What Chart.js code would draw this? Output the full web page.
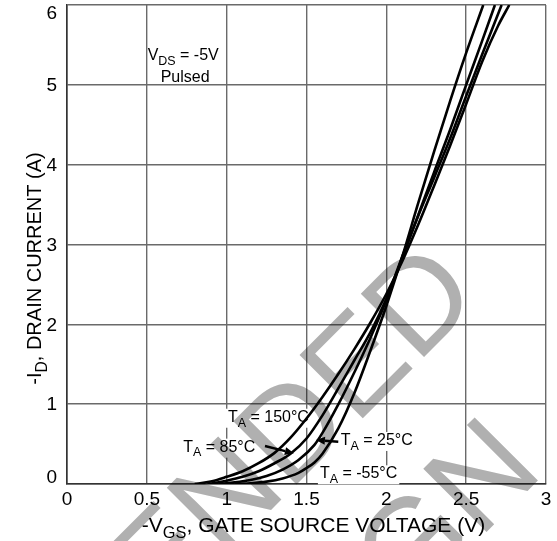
<!DOCTYPE html>
<html><head><meta charset="utf-8">
<script src="https://cdn.jsdelivr.net/npm/chart.js@4.4.1/dist/chart.umd.min.js"></script>
<style>html,body{margin:0;padding:0;background:#fff;}#wrap{width:557px;height:541px;}</style>
</head><body><div id="wrap"><canvas id="c" width="557" height="541"></canvas></div>
<script>
// ---- data ----
const xTickValues = [0, 0.5, 1, 1.5, 2, 2.5, 3];
const xTickLabels = ['0', '0.5', '1', '1.5', '2', '2.5', '3'];
const yTickValues = [0, 1, 2, 3, 4, 5, 6];
const yTickLabels = ['0', '1', '2', '3', '4', '5', '6'];

const vgs150 = [0.80,0.90,1.00,1.10,1.20,1.30,1.40,1.50,1.60,1.70,1.80,1.90,2.00,2.10,2.20,2.30,2.40,2.50,2.60,2.70,2.77];
const id150  = [0,0.03,0.09,0.16,0.26,0.39,0.58,0.82,1.09,1.38,1.69,2.02,2.38,2.79,3.25,3.74,4.24,4.76,5.29,5.74,6.0];
const vgs85  = [0.88,0.95,1.00,1.10,1.20,1.30,1.40,1.50,1.60,1.70,1.80,1.90,2.00,2.10,2.20,2.30,2.40,2.50,2.60,2.722];
const id85   = [0,0.02,0.04,0.09,0.16,0.26,0.38,0.57,0.86,1.20,1.55,1.90,2.32,2.85,3.36,3.84,4.33,4.86,5.38,6.0];
const vgs25  = [0.95,1.05,1.15,1.25,1.35,1.45,1.55,1.60,1.70,1.80,1.90,2.00,2.10,2.20,2.30,2.40,2.50,2.60,2.68];
const id25   = [0,0.02,0.05,0.10,0.18,0.30,0.49,0.64,1.00,1.40,1.83,2.30,2.83,3.37,3.91,4.44,5.0,5.55,6.0];
const vgsM55 = [1.05,1.15,1.25,1.35,1.45,1.50,1.55,1.60,1.70,1.80,1.90,2.00,2.10,2.20,2.30,2.40,2.50,2.607];
const idM55  = [0,0.01,0.03,0.07,0.14,0.20,0.27,0.38,0.70,1.14,1.67,2.23,2.85,3.52,4.17,4.80,5.40,6.0];

const xTitleParts = [['-V',0],['GS',1],[', GATE SOURCE VOLTAGE (V)',0]];
const yTitleParts = [['-I',0],['D',1],[', DRAIN CURRENT (A)',0]];
const watermarkLines = ['NOT RECOMMENDED', 'FOR NEW DESIGN'];

// label texts and their anchor (in data units)
const labels = [
  {parts:[['V',0],['DS',1],[' = -5V',0]], v:0.505, i:5.31, align:'left', bg:false},
  {parts:[['Pulsed',0]], v:0.74, i:5.04, align:'center', bg:false},
  {parts:[['T',0],['A',1],[' = 150°C',0]], v:1.008, i:0.78, align:'left', bg:true},
  {parts:[['T',0],['A',1],[' = 85°C',0]], v:0.728, i:0.405, align:'left', bg:true},
  {parts:[['T',0],['A',1],[' = 25°C',0]], v:1.714, i:0.489, align:'left', bg:true},
  {parts:[['T',0],['A',1],[' = -55°C',0]], v:1.584, i:0.071, align:'left', bg:true}
];
const arrows = [
  {from:[1.24,0.476], to:[1.421,0.385]},
  {from:[1.699,0.530], to:[1.559,0.551]}
];

const FONT = '"Liberation Sans", Arial, Helvetica, sans-serif';
const toPts = (xs, ys) => xs.map((x, k) => ({x: x, y: ys[k]}));

function measureParts(ctx, parts, size) {
  let w = 0;
  parts.forEach(p => { ctx.font = (p[1] ? size * 0.78 : size) + 'px ' + FONT; w += ctx.measureText(p[0]).width; });
  return w;
}
function drawParts(ctx, parts, x, y, size, align) {
  const w = measureParts(ctx, parts, size);
  let cx = align === 'center' ? x - w / 2 : (align === 'right' ? x - w : x);
  ctx.textAlign = 'left'; ctx.textBaseline = 'alphabetic'; ctx.fillStyle = '#000';
  parts.forEach(p => {
    ctx.font = (p[1] ? size * 0.78 : size) + 'px ' + FONT;
    ctx.fillText(p[0], cx, y + (p[1] ? size * 0.3 : 0));
    cx += ctx.measureText(p[0]).width;
  });
  return w;
}

const decor = {
  id: 'decor',
  beforeDatasetsDraw(chart) {
    const ctx = chart.ctx, xs = chart.scales.x, ys = chart.scales.y;
    ctx.save();
    // y tick labels
    ctx.font = '19px ' + FONT; ctx.fillStyle = '#000'; ctx.textAlign = 'right'; ctx.textBaseline = 'middle';
    yTickValues.forEach((v, k) => {
      let py = ys.getPixelForValue(v) + 1;
      py = Math.min(Math.max(py, 14), 478);
      ctx.fillText(yTickLabels[k], xs.left - 10, py);
    });
    // axis titles
    drawParts(ctx, xTitleParts, (xs.left + xs.right) / 2 + 7, 532, 21, 'center');
    ctx.save();
    ctx.translate(41, (ys.top + ys.bottom) / 2 + 24);
    ctx.rotate(-Math.PI / 2);
    drawParts(ctx, yTitleParts, 0, 0, 20, 'center');
    ctx.restore();
    // labels
    labels.forEach(l => {
      const px = xs.getPixelForValue(l.v), py = ys.getPixelForValue(l.i);
      const size = 16;
      const w = measureParts(ctx, l.parts, size);
      const x0 = l.align === 'center' ? px - w / 2 : px;
      if (l.bg) { ctx.fillStyle = '#fff'; ctx.fillRect(x0 - 2, py - 13, w + 4, 19); }
      drawParts(ctx, l.parts, px, py, size, l.align);
    });
    ctx.restore();
  },
  afterDatasetsDraw(chart) {
    const ctx = chart.ctx, xs = chart.scales.x, ys = chart.scales.y;
    ctx.save();
    ctx.strokeStyle = '#000'; ctx.fillStyle = '#000'; ctx.lineWidth = 2.4;
    arrows.forEach(a => {
      const x1 = xs.getPixelForValue(a.from[0]), y1 = ys.getPixelForValue(a.from[1]);
      const x2 = xs.getPixelForValue(a.to[0]), y2 = ys.getPixelForValue(a.to[1]);
      const ang = Math.atan2(y2 - y1, x2 - x1), L = 9, W = 4;
      ctx.beginPath(); ctx.moveTo(x1, y1); ctx.lineTo(x2 - L * Math.cos(ang), y2 - L * Math.sin(ang)); ctx.stroke();
      ctx.beginPath();
      ctx.moveTo(x2, y2);
      ctx.lineTo(x2 - L * Math.cos(ang) + W * Math.sin(ang), y2 - L * Math.sin(ang) - W * Math.cos(ang));
      ctx.lineTo(x2 - L * Math.cos(ang) - W * Math.sin(ang), y2 - L * Math.sin(ang) + W * Math.cos(ang));
      ctx.closePath(); ctx.fill();
    });
    ctx.restore();
  },
  afterDraw(chart) {
    // watermark
    const ctx = chart.ctx;
    ctx.save();
    ctx.globalCompositeOperation = 'multiply';
    ctx.fillStyle = 'rgb(176,176,176)';
    ctx.translate(483, 298);
    ctx.rotate(-Math.PI / 4);
    ctx.font = '130px ' + FONT;
    ctx.textBaseline = 'alphabetic';
    ctx.textAlign = 'right';
    const w1 = ctx.measureText(watermarkLines[0]).width;
    ctx.fillText(watermarkLines[0], 0, 0);
    ctx.textAlign = 'center';
    ctx.fillText(watermarkLines[1], -w1 / 2 + 25, 168);
    ctx.restore();
  }
};

const lineStyle = {showLine: true, borderColor: '#000', borderWidth: 2.6, pointRadius: 0, fill: false, cubicInterpolationMode: 'monotone'};

new Chart(document.getElementById('c'), {
  type: 'scatter',
  data: {
    datasets: [
      Object.assign({label: 'T_A = 150°C', data: toPts(vgs150, id150)}, lineStyle),
      Object.assign({label: 'T_A = 85°C', data: toPts(vgs85, id85)}, lineStyle),
      Object.assign({label: 'T_A = 25°C', data: toPts(vgs25, id25)}, lineStyle),
      Object.assign({label: 'T_A = -55°C', data: toPts(vgsM55, idM55)}, lineStyle)
    ]
  },
  options: {
    responsive: false,
    animation: false,
    devicePixelRatio: 1,
    layout: {padding: {top: 5, right: 11, left: 0, bottom: 0}},
    plugins: {legend: {display: false}, tooltip: {enabled: false}},
    scales: {
      x: {
        type: 'linear', min: 0, max: 3,
        afterBuildTicks: s => { s.ticks = xTickValues.map(v => ({value: v})); },
        afterFit: s => { s.height = 57; },
        ticks: {callback: (v, k) => xTickLabels[k], color: '#000', font: {size: 19, family: FONT}, padding: 4, maxRotation: 0, autoSkip: false},
        grid: {color: '#6a6a6a', lineWidth: 1.4, drawTicks: false},
        border: {color: '#333', width: 1.6}
      },
      y: {
        type: 'linear', min: 0, max: 6,
        afterBuildTicks: s => { s.ticks = yTickValues.map(v => ({value: v})); },
        afterFit: s => { s.width = 67; s.paddingTop = 0; s.paddingBottom = 0; },
        ticks: {display: false},
        grid: {color: '#6a6a6a', lineWidth: 1.4, drawTicks: false},
        border: {color: '#333', width: 1.6}
      }
    }
  },
  plugins: [decor]
});
</script>
</body></html>
